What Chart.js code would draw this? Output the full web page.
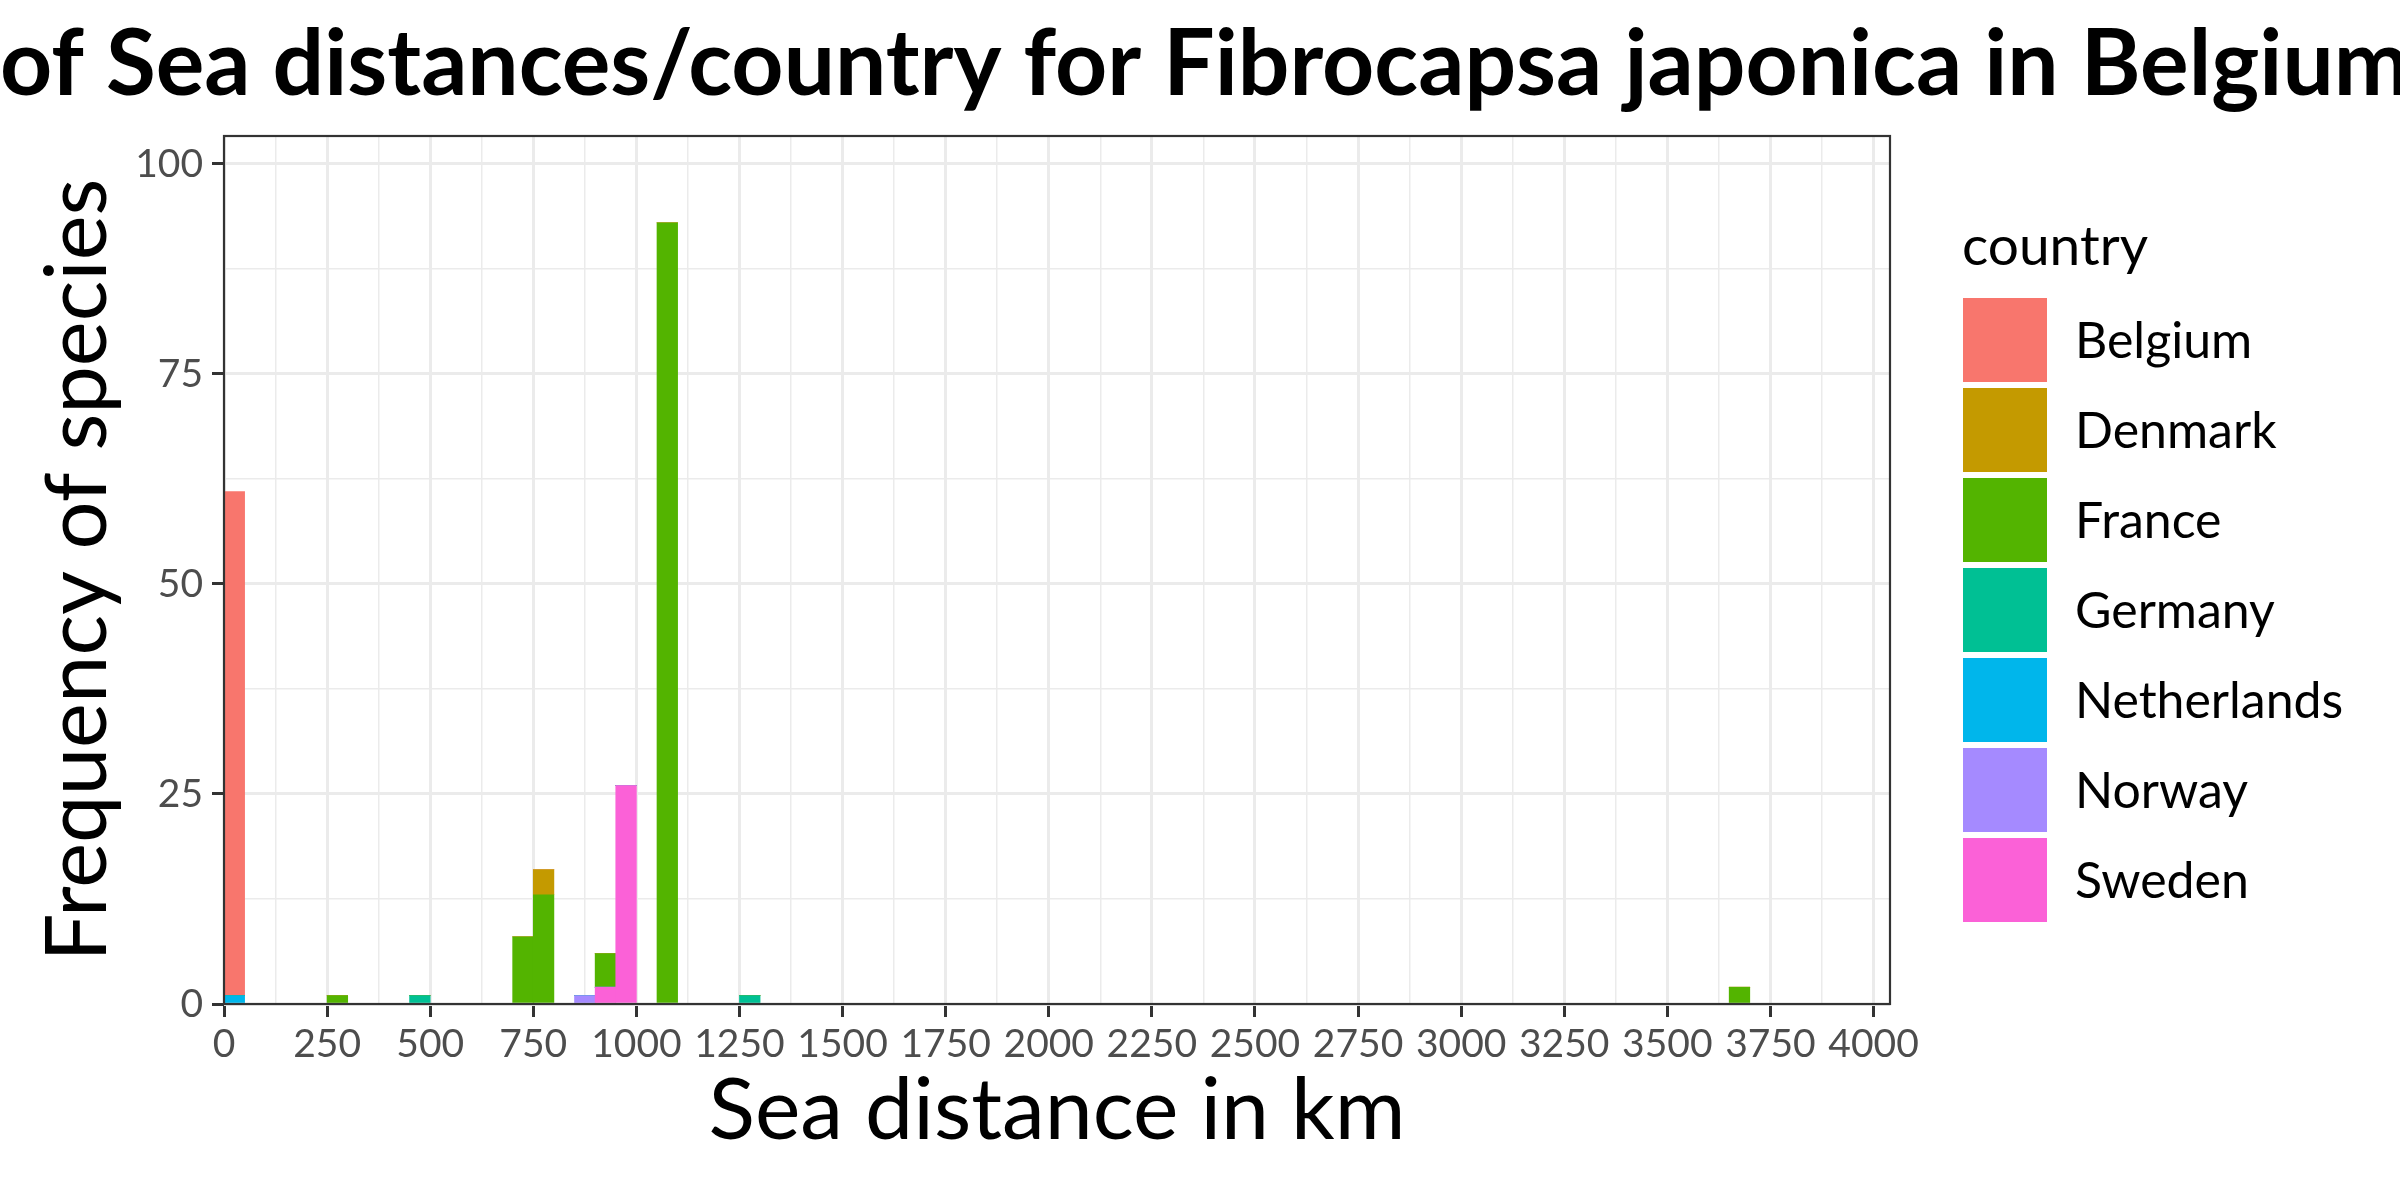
<!DOCTYPE html>
<html>
<head>
<meta charset="utf-8">
<script src="https://cdn.jsdelivr.net/npm/chart.js@4/dist/chart.umd.min.js"></script>
<style>
html,body{margin:0;padding:0;background:#fff;}
canvas{display:block;}
</style>
</head>
<body>
<canvas id="c" width="2400" height="1200"></canvas>
<script>
// ---- data (histogram, 50 km bins, lower bin edges) ----
const binWidth = 50;
const binStarts   = [0, 250, 450, 700, 750, 850, 900, 950, 1050, 1250, 3650];
const belgium     = [60, 0, 0, 0, 0, 0, 0, 0, 0, 0, 0];
const denmark     = [0, 0, 0, 0, 3, 0, 0, 0, 0, 0, 0];
const france      = [0, 1, 0, 8, 13, 0, 4, 0, 93, 0, 2];
const germany     = [0, 0, 1, 0, 0, 0, 0, 0, 0, 1, 0];
const netherlands = [1, 0, 0, 0, 0, 0, 0, 0, 0, 0, 0];
const norway      = [0, 0, 0, 0, 0, 1, 0, 0, 0, 0, 0];
const sweden      = [0, 0, 0, 0, 0, 0, 2, 26, 0, 0, 0];

const countries = ['Belgium', 'Denmark', 'France', 'Germany', 'Netherlands', 'Norway', 'Sweden'];
const countryCounts = [belgium, denmark, france, germany, netherlands, norway, sweden];
const countryColors = ['#F8766D', '#C49A00', '#53B400', '#00C094', '#00B6EB', '#A58AFF', '#FB61D7'];

const xTickStep = 125, xLabelStep = 250, xMin = 0, xMax = 4040;
const yTickStep = 12.5, yLabelStep = 25, yMin = 0, yMax = 103.33;

const titlePrefix = 'Histogram ';
const titleRest = 'of Sea distances/country for Fibrocapsa japonica in Belgium';
const xTitle = 'Sea distance in km';
const yTitle = 'Frequency of species';
const legendTitle = 'country';

const FONT = 'Lato';

// ggplot stacks the first level on top -> reverse dataset order for Chart.js stacking
const datasets = countries.map((name, i) => ({
  label: name,
  data: binStarts.map((s, j) => ({x: s + binWidth / 2, y: countryCounts[i][j]})),
  backgroundColor: countryColors[i],
  borderWidth: 0,
  barPercentage: 1.0,
  categoryPercentage: 1.0
})).reverse();

const isMajor = (v, step) => Math.abs(v / step - Math.round(v / step)) < 1e-6;

const ggPlugin = {
  id: 'gg',
  afterDatasetsDraw(chart) {
    const {ctx, chartArea: a} = chart;
    ctx.save();
    ctx.strokeStyle = '#333333';
    ctx.lineWidth = 2.2;
    ctx.strokeRect(a.left, a.top, a.right - a.left, a.bottom - a.top);
    ctx.restore();
  },
  afterDraw(chart) {
    const {ctx} = chart;
    ctx.save();
    // title: wider than the canvas, clipped on both sides like the original
    ctx.fillStyle = '#000';
    ctx.font = 'bold 84px ' + FONT;
    const w84 = ctx.measureText(titleRest).width;
    const size = 84 * 2410 / w84;
    ctx.font = 'bold ' + size.toFixed(1) + 'px ' + FONT;
    const pre = ctx.measureText(titlePrefix).width;
    ctx.textAlign = 'left';
    ctx.textBaseline = 'alphabetic';
    ctx.fillText(titlePrefix + titleRest, -pre, 95);

    // legend
    const lx = 1963, boxW = 84, boxH = 84, gap = 6, top0 = 298;
    ctx.font = '55px ' + FONT;
    ctx.fillText(legendTitle, 1962, 265);
    ctx.font = '50px ' + FONT;
    countries.forEach((name, i) => {
      const y = top0 + i * (boxH + gap);
      ctx.fillStyle = countryColors[i];
      ctx.fillRect(lx, y, boxW, boxH);
      ctx.fillStyle = '#000';
      ctx.fillText(name, 2075, y + boxH / 2 + 18);
    });
    ctx.restore();
  }
};

new Chart(document.getElementById('c'), {
  type: 'bar',
  data: {datasets},
  options: {
    responsive: false,
    animation: false,
    devicePixelRatio: 1,
    layout: {padding: {left: 0, right: 510, top: 136, bottom: 0}},
    plugins: {legend: {display: false}, title: {display: false}, tooltip: {enabled: false}},
    scales: {
      x: {
        type: 'linear',
        stacked: true,
        offset: false,
        min: xMin, max: xMax,
        afterFit(s) { s.height = 196; },
        border: {display: false},
        grid: {
          offset: false,
          color: '#EBEBEB',
          lineWidth: c => (c.tick && isMajor(c.tick.value, xLabelStep)) ? 3 : 1.5,
          drawTicks: true,
          tickLength: 13,
          tickWidth: 3,
          tickColor: c => (c.tick && isMajor(c.tick.value, xLabelStep)) ? '#333333' : 'rgba(0,0,0,0)'
        },
        ticks: {
          stepSize: xTickStep,
          includeBounds: false,
          autoSkip: false,
          maxRotation: 0, minRotation: 0,
          padding: 4,
          color: '#4D4D4D',
          font: {family: FONT, size: 39},
          callback: v => isMajor(v, xLabelStep) ? String(v) : ''
        },
        title: {
          display: true, text: xTitle, color: '#000',
          font: {family: FONT, size: 86},
          padding: {top: 0, bottom: 37}
        }
      },
      y: {
        type: 'linear',
        stacked: true,
        min: yMin, max: yMax,
        afterFit(s) { s.width = 224; },
        border: {display: false},
        grid: {
          color: '#EBEBEB',
          lineWidth: c => (c.tick && isMajor(c.tick.value, yLabelStep)) ? 3 : 1.5,
          drawTicks: true,
          tickLength: 12,
          tickWidth: 3,
          tickColor: c => (c.tick && isMajor(c.tick.value, yLabelStep)) ? '#333333' : 'rgba(0,0,0,0)'
        },
        ticks: {
          stepSize: yTickStep,
          includeBounds: false,
          autoSkip: false,
          padding: 9,
          color: '#4D4D4D',
          font: {family: FONT, size: 39},
          callback: v => isMajor(v, yLabelStep) ? String(v) : ''
        },
        title: {
          display: true, text: yTitle, color: '#000',
          font: {family: FONT, size: 85},
          padding: {top: 28, bottom: 0}
        }
      }
    }
  },
  plugins: [ggPlugin]
});
</script>
</body>
</html>
